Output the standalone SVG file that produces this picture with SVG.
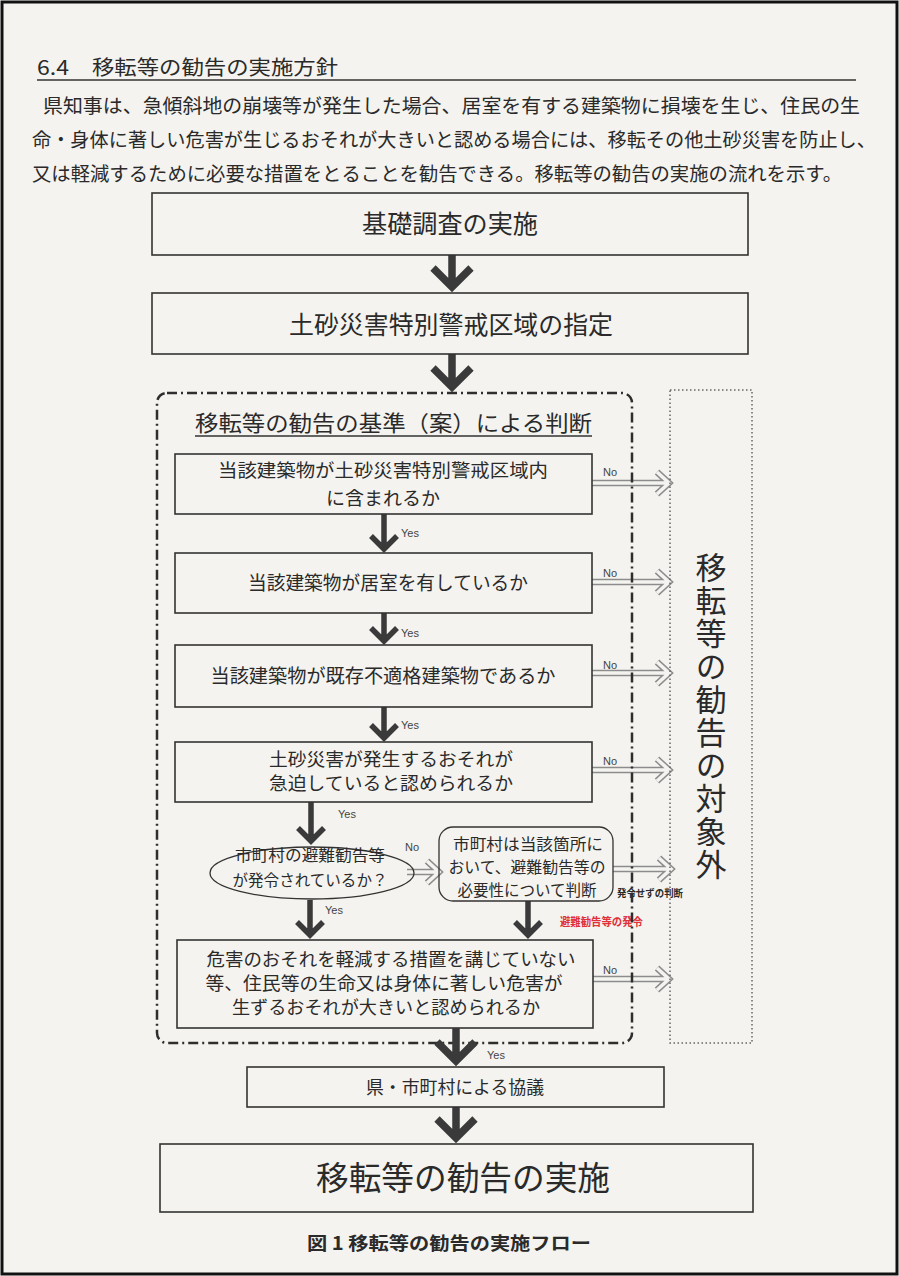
<svg xmlns="http://www.w3.org/2000/svg" xmlns:xlink="http://www.w3.org/1999/xlink" width="899" height="1276" viewBox="0 0 899 1276">
<style>
.t{font-family:"Noto Sans CJK JP","Noto Sans",sans-serif;fill:#2a2a2a}
.b{font-family:"Noto Sans CJK JP","Noto Sans",sans-serif;font-weight:bold;fill:#2a2a2a}
.lat{font-family:"Liberation Sans",Arial,sans-serif;font-size:11px;fill:#444}
.box{fill:none;stroke:#333;stroke-width:1.6}
.big{fill:none;stroke:#3a3a3a;stroke-width:7.5;stroke-linejoin:miter;stroke-linecap:butt}
.mid{fill:none;stroke:#3a3a3a;stroke-width:5.5;stroke-linejoin:miter;stroke-linecap:butt}
.ho{fill:none;stroke:#8c8c8c;stroke-width:6.5;stroke-linejoin:miter}
.hi{fill:none;stroke:#f4f3ef;stroke-width:3.6;stroke-linejoin:miter}
</style>
<defs>
<path id="hA" d="M592 483 H668 M657 472 L669 483 L657 494"/>
<path id="hB" d="M592 582 H668 M657 571 L669 582 L657 593"/>
<path id="hC" d="M592 673 H668 M657 662 L669 673 L657 684"/>
<path id="hD" d="M592 770 H668 M657 759 L669 770 L657 781"/>
<path id="hE" d="M593 979 H668 M657 968 L669 979 L657 990"/>
<path id="hR" d="M613 869 H670 M659 858 L671 869 L659 880"/>
<path id="hL" d="M407 872 H438 M427 861 L439 872 L427 883"/>
</defs>
<rect x="2" y="2" width="895" height="1272" fill="#f4f3ef" stroke="#111" stroke-width="3"/>

<g id="header">
<text class="t" x="37" y="75" font-size="20" textLength="32" lengthAdjust="spacingAndGlyphs">6.4</text>
<text class="t" x="92" y="75" font-size="20" textLength="246" lengthAdjust="spacingAndGlyphs">移転等の勧告の実施方針</text>
<line x1="37" y1="80" x2="856" y2="80" stroke="#333" stroke-width="1.6"/>
<text class="t" x="43" y="113" font-size="19.5" textLength="817" lengthAdjust="spacingAndGlyphs">県知事は、急傾斜地の崩壊等が発生した場合、居室を有する建築物に損壊を生じ、住民の生</text>
<text class="t" x="32" y="147" font-size="19.5" textLength="844" lengthAdjust="spacingAndGlyphs">命・身体に著しい危害が生じるおそれが大きいと認める場合には、移転その他土砂災害を防止し、</text>
<text class="t" x="32" y="181" font-size="19.5" textLength="810" lengthAdjust="spacingAndGlyphs">又は軽減するために必要な措置をとることを勧告できる。移転等の勧告の実施の流れを示す。</text>
</g>

<g id="connectors">
<path class="big" d="M452 255 V286 M433 268 L452 287 L471 268"/>
<path class="big" d="M452 354 V386 M433 368 L452 387 L471 368"/>
<path class="mid" d="M384 514 V548 M371 536 L384 549 L397 536"/>
<path class="mid" d="M384 613 V640 M371 628 L384 641 L397 628"/>
<path class="mid" d="M384 707 V737 M371 725 L384 738 L397 725"/>
<path class="mid" d="M311 802 V840 M298 828 L311 841 L324 828"/>
<path class="mid" d="M310 900 V935 M297 922 L310 935 L323 922"/>
<path class="mid" d="M528 901 V935 M515 922 L528 935 L541 922"/>
<use xlink:href="#hA" class="ho"/><use xlink:href="#hA" class="hi"/>
<use xlink:href="#hB" class="ho"/><use xlink:href="#hB" class="hi"/>
<use xlink:href="#hC" class="ho"/><use xlink:href="#hC" class="hi"/>
<use xlink:href="#hD" class="ho"/><use xlink:href="#hD" class="hi"/>
<use xlink:href="#hE" class="ho"/><use xlink:href="#hE" class="hi"/>
<use xlink:href="#hR" class="ho"/><use xlink:href="#hR" class="hi"/>
<use xlink:href="#hL" class="ho"/><use xlink:href="#hL" class="hi"/>
<text class="lat" x="401" y="537">Yes</text>
<text class="lat" x="401" y="637">Yes</text>
<text class="lat" x="401" y="729">Yes</text>
<text class="lat" x="338" y="818">Yes</text>
<text class="lat" x="325" y="914">Yes</text>
<text class="lat" x="487" y="1059">Yes</text>
<text class="lat" x="603" y="476">No</text>
<text class="lat" x="603" y="577">No</text>
<text class="lat" x="603" y="669">No</text>
<text class="lat" x="603" y="765">No</text>
<text class="lat" x="603" y="974">No</text>
<text class="lat" x="405" y="851">No</text>
<text class="b" x="617" y="897" font-size="10" textLength="66" lengthAdjust="spacingAndGlyphs">発令せずの判断</text>
<text class="b" x="560" y="926" font-size="11" style="fill:#e0303a" textLength="83" lengthAdjust="spacingAndGlyphs">避難勧告等の発令</text>
</g>

<g id="group-criteria">
<rect x="157" y="393" width="475" height="650" rx="10" fill="none" stroke="#2e2e2e" stroke-width="2.5" stroke-dasharray="10 4 2 4"/>
<text class="t" x="195" y="431" font-size="22" textLength="397" lengthAdjust="spacingAndGlyphs">移転等の勧告の基準（案）による判断</text>
<line x1="195" y1="436" x2="592" y2="436" stroke="#333" stroke-width="1.4"/>
</g>

<g id="excluded">
<rect x="670" y="390" width="82" height="653" fill="none" stroke="#666" stroke-width="1.5" stroke-dasharray="1.5 2.5"/>
<text class="t" x="711" y="552" font-size="31" writing-mode="tb" letter-spacing="2">移転等の勧告の対象外</text>
</g>

<g id="n-survey">
<rect class="box" x="152" y="193" width="596" height="62"/>
<text class="t" x="450" y="233" font-size="25" text-anchor="middle" textLength="176" lengthAdjust="spacingAndGlyphs">基礎調査の実施</text>
</g>
<g id="n-designation">
<rect class="box" x="152" y="293" width="596" height="61"/>
<text class="t" x="451" y="334" font-size="25" text-anchor="middle" textLength="324" lengthAdjust="spacingAndGlyphs">土砂災害特別警戒区域の指定</text>
</g>
<g id="n-q1">
<rect class="box" x="175" y="454" width="417" height="60"/>
<text class="t" x="383" y="477" font-size="18.5" text-anchor="middle" textLength="330" lengthAdjust="spacingAndGlyphs">当該建築物が土砂災害特別警戒区域内</text>
<text class="t" x="383" y="505" font-size="18.5" text-anchor="middle" textLength="114" lengthAdjust="spacingAndGlyphs">に含まれるか</text>
</g>
<g id="n-q2">
<rect class="box" x="175" y="553" width="417" height="60"/>
<text class="t" x="388" y="590" font-size="19" text-anchor="middle" textLength="280" lengthAdjust="spacingAndGlyphs">当該建築物が居室を有しているか</text>
</g>
<g id="n-q3">
<rect class="box" x="175" y="645" width="417" height="62"/>
<text class="t" x="383" y="683" font-size="19" text-anchor="middle" textLength="345" lengthAdjust="spacingAndGlyphs">当該建築物が既存不適格建築物であるか</text>
</g>
<g id="n-q4">
<rect class="box" x="175" y="742" width="417" height="60"/>
<text class="t" x="391" y="766" font-size="18" text-anchor="middle" textLength="244" lengthAdjust="spacingAndGlyphs">土砂災害が発生するおそれが</text>
<text class="t" x="391" y="790" font-size="18" text-anchor="middle" textLength="244" lengthAdjust="spacingAndGlyphs">急迫していると認められるか</text>
</g>
<g id="n-evac">
<ellipse cx="312" cy="873" rx="102" ry="26" fill="none" stroke="#333" stroke-width="1.3"/>
<text class="t" x="310" y="861" font-size="15.5" text-anchor="middle" textLength="150" lengthAdjust="spacingAndGlyphs">市町村の避難勧告等</text>
<text class="t" x="310" y="886" font-size="15.5" text-anchor="middle" textLength="155" lengthAdjust="spacingAndGlyphs">が発令されているか？</text>
</g>
<g id="n-judge">
<rect x="439" y="827" width="174" height="74" rx="14" fill="none" stroke="#333" stroke-width="1.3"/>
<text class="t" x="528" y="850" font-size="15.5" text-anchor="middle" textLength="150" lengthAdjust="spacingAndGlyphs">市町村は当該箇所に</text>
<text class="t" x="527" y="873" font-size="15.5" text-anchor="middle" textLength="157" lengthAdjust="spacingAndGlyphs">おいて、避難勧告等の</text>
<text class="t" x="527" y="896" font-size="15.5" text-anchor="middle" textLength="139" lengthAdjust="spacingAndGlyphs">必要性について判断</text>
</g>
<g id="n-q5">
<rect class="box" x="177" y="940" width="416" height="88"/>
<text class="t" x="391" y="966" font-size="18" text-anchor="middle" textLength="369" lengthAdjust="spacingAndGlyphs">危害のおそれを軽減する措置を講じていない</text>
<text class="t" x="384" y="990" font-size="18" text-anchor="middle" textLength="357" lengthAdjust="spacingAndGlyphs">等、住民等の生命又は身体に著しい危害が</text>
<text class="t" x="386" y="1014" font-size="18" text-anchor="middle" textLength="308" lengthAdjust="spacingAndGlyphs">生ずるおそれが大きいと認められるか</text>
</g>

<g id="connectors-lower">
<path class="big" d="M456 1028 V1060 M437 1042 L456 1061 L475 1042"/>
<path class="big" d="M456 1107 V1137 M437 1119 L456 1138 L475 1119"/>
</g>

<g id="n-consult">
<rect class="box" x="247" y="1067" width="417" height="40"/>
<text class="t" x="455" y="1094" font-size="18" text-anchor="middle" textLength="178" lengthAdjust="spacingAndGlyphs">県・市町村による協議</text>
</g>
<g id="n-recommend">
<rect class="box" x="160" y="1144" width="593" height="68"/>
<text class="t" x="463" y="1190" font-size="33" text-anchor="middle" textLength="294" lengthAdjust="spacingAndGlyphs">移転等の勧告の実施</text>
</g>

<g id="caption">
<text class="b" x="449" y="1250" font-size="18" text-anchor="middle" textLength="284" lengthAdjust="spacingAndGlyphs">図 1 移転等の勧告の実施フロー</text>
</g>
</svg>
